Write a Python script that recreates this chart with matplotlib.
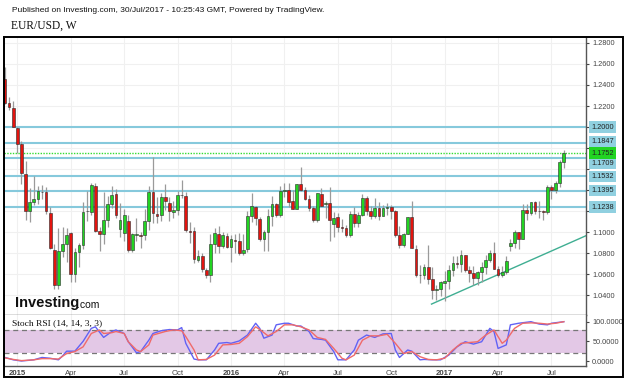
import numpy as np
import matplotlib.pyplot as plt
from matplotlib.patches import Rectangle
import matplotlib.transforms as mtrans

# weekly EUR/USD candles, week of 15/Dec/2014 .. week of 24/Jul/2017
opens = [1.2457, 1.2229, 1.2180, 1.1995, 1.1840, 1.1550, 1.1203, 1.1282, 1.1312, 1.1382,
         1.1380, 1.1180, 1.0830, 1.0495, 1.0822, 1.0890, 1.0990, 1.0602, 1.0808, 1.0873,
         1.1200, 1.1194, 1.1440, 1.1010, 1.0986, 1.1114, 1.1264, 1.1360, 1.1026, 1.0988,
         1.1105, 1.0830, 1.0972, 1.0975, 1.0970, 1.1105, 1.1385, 1.1170, 1.1160, 1.1332,
         1.1280, 1.1192, 1.1212, 1.1355, 1.1345, 1.1012, 1.1010, 1.0735, 1.0770, 1.0640,
         1.0593, 1.0885, 1.0980, 1.0869, 1.0965, 1.0855, 1.0924, 1.0910, 1.0797, 1.0835,
         1.1155, 1.1240, 1.1125, 1.0933, 1.0997, 1.1151, 1.1270, 1.1165, 1.1390, 1.1400,
         1.1295, 1.1222, 1.1454, 1.1400, 1.1310, 1.1226, 1.1117, 1.1360, 1.1265, 1.1280,
         1.1075, 1.1140, 1.1049, 1.1039, 1.0975, 1.1175, 1.1087, 1.1161, 1.1324, 1.1198,
         1.1156, 1.1233, 1.1153, 1.1226, 1.1241, 1.1199, 1.0971, 1.0880, 1.0986, 1.1140,
         1.0840, 1.0588, 1.0590, 1.0665, 1.0557, 1.0451, 1.0454, 1.0515, 1.0532, 1.0643,
         1.0700, 1.0699, 1.0783, 1.0642, 1.0614, 1.0562, 1.0620, 1.0671, 1.0732, 1.0802,
         1.0652, 1.0592, 1.0615, 1.0865, 1.0897, 1.0998, 1.0933, 1.1206, 1.1180, 1.1283,
         1.1196, 1.1199, 1.1195, 1.1426, 1.1401, 1.1470, 1.1664]
highs = [1.2570, 1.2288, 1.2249, 1.2000, 1.1871, 1.1680, 1.1423, 1.1534, 1.1443, 1.1450,
         1.1429, 1.1240, 1.0890, 1.1043, 1.1052, 1.1035, 1.1000, 1.0849, 1.0898, 1.1290,
         1.1391, 1.1467, 1.1467, 1.1045, 1.1385, 1.1339, 1.1436, 1.1409, 1.1278, 1.1215,
         1.1160, 1.0988, 1.1129, 1.1000, 1.1215, 1.1436, 1.1714, 1.1332, 1.1367, 1.1460,
         1.1330, 1.1297, 1.1387, 1.1495, 1.1378, 1.1095, 1.1045, 1.0829, 1.0798, 1.0660,
         1.0981, 1.1043, 1.1060, 1.1000, 1.0994, 1.0971, 1.0986, 1.0993, 1.0985, 1.1200,
         1.1376, 1.1245, 1.1145, 1.1018, 1.1218, 1.1342, 1.1278, 1.1438, 1.1465, 1.1463,
         1.1398, 1.1460, 1.1616, 1.1428, 1.1349, 1.1245, 1.1375, 1.1416, 1.1300, 1.1428,
         1.1186, 1.1185, 1.1120, 1.1063, 1.1198, 1.1234, 1.1188, 1.1366, 1.1342, 1.1250,
         1.1328, 1.1283, 1.1259, 1.1278, 1.1258, 1.1213, 1.1059, 1.0988, 1.1146, 1.1300,
         1.0875, 1.0686, 1.0695, 1.0874, 1.0667, 1.0498, 1.0529, 1.0630, 1.0685, 1.0775,
         1.0776, 1.0829, 1.0785, 1.0680, 1.0680, 1.0630, 1.0714, 1.0785, 1.0825, 1.0906,
         1.0680, 1.0680, 1.0776, 1.0938, 1.1020, 1.0999, 1.1268, 1.1268, 1.1286, 1.1296,
         1.1296, 1.1207, 1.1445, 1.1445, 1.1490, 1.1683, 1.1777]
lows = [1.2220, 1.2165, 1.1999, 1.1754, 1.1460, 1.1115, 1.1098, 1.1261, 1.1270, 1.1315,
        1.1174, 1.0840, 1.0462, 1.0457, 1.0764, 1.0713, 1.0521, 1.0520, 1.0663, 1.0840,
        1.1105, 1.1163, 1.1000, 1.0819, 1.0887, 1.1047, 1.1226, 1.1134, 1.0955, 1.0916,
        1.0809, 1.0808, 1.0911, 1.0847, 1.0922, 1.1018, 1.1087, 1.1087, 1.1104, 1.1206,
        1.1105, 1.1130, 1.1160, 1.1328, 1.0998, 1.0898, 1.0707, 1.0710, 1.0616, 1.0558,
        1.0524, 1.0796, 1.0804, 1.0848, 1.0850, 1.0711, 1.0804, 1.0778, 1.0781, 1.0808,
        1.1097, 1.1067, 1.0915, 1.0822, 1.0823, 1.1057, 1.1144, 1.1144, 1.1329, 1.1234,
        1.1217, 1.1218, 1.1387, 1.1308, 1.1201, 1.1099, 1.1099, 1.1247, 1.1132, 1.0912,
        1.0952, 1.1000, 1.1000, 1.0952, 1.0950, 1.1046, 1.1046, 1.1152, 1.1160, 1.1123,
        1.1131, 1.1119, 1.1150, 1.1160, 1.1124, 1.0954, 1.0851, 1.0859, 1.0978, 1.0845,
        1.0569, 1.0518, 1.0550, 1.0503, 1.0366, 1.0352, 1.0389, 1.0340, 1.0454, 1.0581,
        1.0660, 1.0617, 1.0620, 1.0520, 1.0494, 1.0495, 1.0525, 1.0600, 1.0718, 1.0645,
        1.0570, 1.0569, 1.0605, 1.0821, 1.0851, 1.0839, 1.0931, 1.1110, 1.1160, 1.1171,
        1.1131, 1.1118, 1.1170, 1.1312, 1.1371, 1.1432, 1.1612]
closes = [1.2229, 1.2188, 1.2000, 1.1840, 1.1566, 1.1204, 1.1290, 1.1316, 1.1387, 1.1379,
          1.1197, 1.0844, 1.0495, 1.0822, 1.0888, 1.0971, 1.0602, 1.0808, 1.0873, 1.1194,
          1.1202, 1.1447, 1.1010, 1.0986, 1.1114, 1.1264, 1.1350, 1.1162, 1.1112, 1.1161,
          1.0826, 1.0983, 1.0986, 1.0966, 1.1105, 1.1385, 1.1183, 1.1149, 1.1337, 1.1297,
          1.1200, 1.1214, 1.1357, 1.1348, 1.1018, 1.1004, 1.0740, 1.0770, 1.0646, 1.0593,
          1.0885, 1.0990, 1.0869, 1.0967, 1.0859, 1.0933, 1.0917, 1.0797, 1.0832, 1.1155,
          1.1252, 1.1130, 1.0933, 1.0997, 1.1151, 1.1270, 1.1165, 1.1390, 1.1400, 1.1286,
          1.1221, 1.1454, 1.1403, 1.1310, 1.1226, 1.1117, 1.1367, 1.1252, 1.1276, 1.1117,
          1.1138, 1.1049, 1.1039, 1.0975, 1.1175, 1.1087, 1.1161, 1.1324, 1.1198, 1.1156,
          1.1233, 1.1153, 1.1226, 1.1241, 1.1199, 1.0971, 1.0880, 1.0986, 1.1140, 1.0850,
          1.0588, 1.0590, 1.0665, 1.0557, 1.0451, 1.0454, 1.0520, 1.0532, 1.0643, 1.0702,
          1.0699, 1.0783, 1.0642, 1.0614, 1.0562, 1.0620, 1.0671, 1.0732, 1.0802, 1.0652,
          1.0592, 1.0615, 1.0726, 1.0897, 1.0998, 1.0933, 1.1206, 1.1180, 1.1283, 1.1196,
          1.1199, 1.1195, 1.1426, 1.1401, 1.1470, 1.1664, 1.1753]

# horizontal levels drawn on the chart
levels = [1.2000, 1.1847, 1.1709, 1.1532, 1.1395, 1.1238]
last_price = 1.1752
# rising support line (week index, price)
trend_x = [103.8, 141.4]
trend_y = [1.0314, 1.0965]

# Stoch RSI (14,14,3,3): week index, value
k_x = [0, 2, 4, 7, 9, 11, 13, 14, 15, 17, 19, 21, 22, 24, 26, 27, 29, 30, 32, 33,
       35, 36, 38, 40, 42, 43, 44, 46, 47, 49, 51, 52, 54, 55, 57, 59, 61, 62, 63, 65,
       66, 68, 69, 71, 72, 74, 75, 77, 78, 80, 81, 83, 85, 86, 88, 90, 92, 94, 95, 96,
       98, 99, 101, 102, 104, 106, 108, 110, 112, 114, 116, 118, 119, 120, 122, 123, 125,
       128, 130, 132, 133, 136]
k_val = [9, 3, 0, 3, 9, 7, 3, 13, 25, 25, 50, 83, 87, 60, 75, 79, 70, 49, 21, 24,
         53, 70, 77, 80, 79, 85, 45, 5, 3, 3, 28, 45, 47, 45, 51, 66, 96, 83, 58, 66,
         92, 96, 96, 89, 89, 75, 57, 55, 53, 24, 3, 3, 28, 53, 66, 60, 69, 70, 28, 9,
         28, 25, 3, 4, 3, 3, 15, 36, 49, 43, 49, 83, 75, 32, 41, 92, 96,
         100, 94, 92, 96, 100]
d_x = [0, 2, 4, 7, 9, 11, 13, 15, 17, 19, 21, 23, 24, 26, 27, 29, 30, 32, 33, 35,
       36, 39, 41, 43, 44, 46, 47, 49, 51, 53, 55, 57, 59, 61, 62, 64, 66, 68, 70, 72,
       74, 76, 78, 80, 82, 83, 85, 87, 89, 91, 93, 95, 97, 99, 101, 103, 105, 107, 109,
       111, 113, 115, 117, 119, 121, 122, 124, 126, 128, 130, 132, 134, 136]
d_val = [8, 4, 1, 3, 6, 6, 5, 19, 24, 36, 70, 79, 70, 72, 75, 70, 49, 28, 24, 41,
         66, 75, 79, 77, 62, 28, 3, 4, 15, 41, 42, 45, 62, 87, 80, 64, 75, 92, 92, 87,
         79, 60, 55, 32, 7, 3, 15, 53, 64, 64, 68, 45, 19, 24, 11, 4, 3, 7, 28,
         45, 47, 49, 66, 79, 45, 53, 83, 96, 97, 96, 94, 96, 100]

tick_x = [3, 16, 29, 42, 55, 68, 81, 94, 107, 120, 133]
tick_labels = ['2015', 'Apr', 'Jul', 'Oct', '2016', 'Apr', 'Jul', 'Oct', '2017', 'Apr', 'Jul']

W, H = 630, 381
FS = 5.3
fig = plt.figure(figsize=(W / 100, H / 100), dpi=100)
L, R = 4.4, 586
ax = fig.add_axes([L / W, 1 - 315 / H, (R - L) / W, (315 - 37) / H])
rsi = fig.add_axes([L / W, 1 - 366 / H, (R - L) / W, (366 - 315) / H], sharex=ax)

# candles
o = np.array(opens); h = np.array(highs); lo = np.array(lows); c = np.array(closes)
x = np.arange(len(c))
up = c >= o
body_col = np.where(up, '#22d422', '#e3140f')
ax.vlines(x, lo, h, color='#9a9a9a', lw=0.9, zorder=3)
ax.bar(x, np.maximum(np.abs(c - o), 0.0005), width=0.66, bottom=np.minimum(o, c),
       color=body_col, edgecolor='#2a2a2a', linewidth=0.4, zorder=4)

for lv in levels:
    ax.axhline(lv, color='#86c9dc', lw=1.5, zorder=2)
ax.axhline(last_price, color='#33dd33', lw=1.0, ls=(0, (1, 1)), zorder=2)
ax.plot(trend_x, trend_y, color='#3fae92', lw=1.0, zorder=2)

ax.set_xlim(-0.15, 141.4)
ax.set_ylim(1.0210, 1.2857)
ax.yaxis.tick_right()
yt = np.round(np.arange(1.04, 1.2801, 0.02), 2)
ax.set_yticks(yt)
# the levels' boxes cover 1.12 .. 1.20
ax.set_yticklabels(['' if 1.115 < v < 1.205 else '%.4f' % v for v in yt])
ax.tick_params(axis='y', labelsize=FS, colors='#444444', length=2.5, pad=2, width=0.8,
               labelfontfamily='Liberation Sans')
ax.tick_params(axis='x', labelbottom=False, length=0)
ax.set_xticks(tick_x)
ax.grid(True, color='#f0f0f0', lw=0.8, zorder=0)
ax.set_axisbelow(True)

# price boxes on the right axis, nudged apart where they would collide (pixels)
box_shift = {1.1847: 2.0, 1.1709: -5.5}
lab_tr = mtrans.blended_transform_factory(ax.transAxes, ax.transData)
for lv in levels + [last_price]:
    fc = '#22d422' if lv == last_price else '#90d0e0'
    dy = box_shift.get(lv, 0.0)
    ax.text(1.0, lv, '%.4f' % lv,
            transform=lab_tr + mtrans.ScaledTranslation(5.5 / 100, dy / 100, fig.dpi_scale_trans),
            ha='left', va='center', fontsize=FS, family='Liberation Sans', color='#222222',
            clip_on=False, zorder=10,
            bbox=dict(boxstyle='square,pad=0.28', fc=fc, ec='none'))

# stoch rsi panel
rsi.axhspan(20, 80, color='#e3c8e6', zorder=1, lw=0)
rsi.axhline(80, color='#777777', lw=0.9, ls=(0, (4, 3)), zorder=2)
rsi.axhline(20, color='#777777', lw=0.9, ls=(0, (4, 3)), zorder=2)
rsi.plot(k_x, k_val, color='#6262f5', lw=1.0, zorder=3)
rsi.plot(d_x, d_val, color='#f06a6a', lw=1.0, zorder=3)
rsi.set_ylim(-12.7, 117)
rsi.yaxis.tick_right()
rsi.set_yticks([0, 50, 100])
rsi.set_yticklabels(['0.0000', '50.0000', '100.0000'])
rsi.tick_params(axis='y', labelsize=FS, colors='#444444', length=2.5, pad=2, width=0.8,
                labelfontfamily='Liberation Sans')
rsi.set_xticks(tick_x)
rsi.set_xticklabels(tick_labels)
rsi.tick_params(axis='x', labelsize=5.6, colors='#444444', length=0, pad=3,
                labelfontfamily='Liberation Sans')
for t in rsi.get_xticklabels():
    if t.get_text().startswith('20'):
        t.set_fontweight('bold')
rsi.grid(True, axis='x', color='#f0f0f0', lw=0.8, zorder=0)
rsi.set_axisbelow(True)
rsi.text(0.013, 96, 'Stoch RSI (14, 14, 3, 3)',
         transform=mtrans.blended_transform_factory(rsi.transAxes, rsi.transData),
         fontsize=6.8, family='Liberation Serif', va='center', ha='left', color='#111111', zorder=5)

for a in (ax, rsi):
    a.spines['top'].set_visible(False)
    a.spines['left'].set_color('black')
    a.spines['left'].set_linewidth(1.2)
    a.spines['right'].set_color('#555555')
    a.spines['bottom'].set_color('#555555')
    a.spines['right'].set_linewidth(1.0)
    a.spines['bottom'].set_linewidth(1.0)

# frame and header texts
fig.add_artist(Rectangle((4 / W, 1 - 377 / H), 619 / W, 340 / H, transform=fig.transFigure,
                         fill=False, ec='black', lw=1.4))
fig.text(12 / W, 1 - 10 / H, 'Published on Investing.com, 30/Jul/2017 - 10:25:43 GMT, Powered by TradingView.',
         fontsize=6, family='Liberation Sans', va='center', ha='left', color='#111111')
fig.text(11 / W, 1 - 26 / H, 'EUR/USD, W', fontsize=8.3, family='Liberation Serif', va='center', ha='left', color='#111111')
fig.text(15 / W, 1 - 303 / H, 'Investing', fontsize=10.5, fontweight='bold', family='Liberation Sans',
         va='center', ha='left', color='#111111')
fig.text(77 / W, 1 - 304.5 / H, '.com', fontsize=7.5, family='Liberation Sans', va='center', ha='left', color='#111111')

fig.savefig('out.png', dpi=100)
